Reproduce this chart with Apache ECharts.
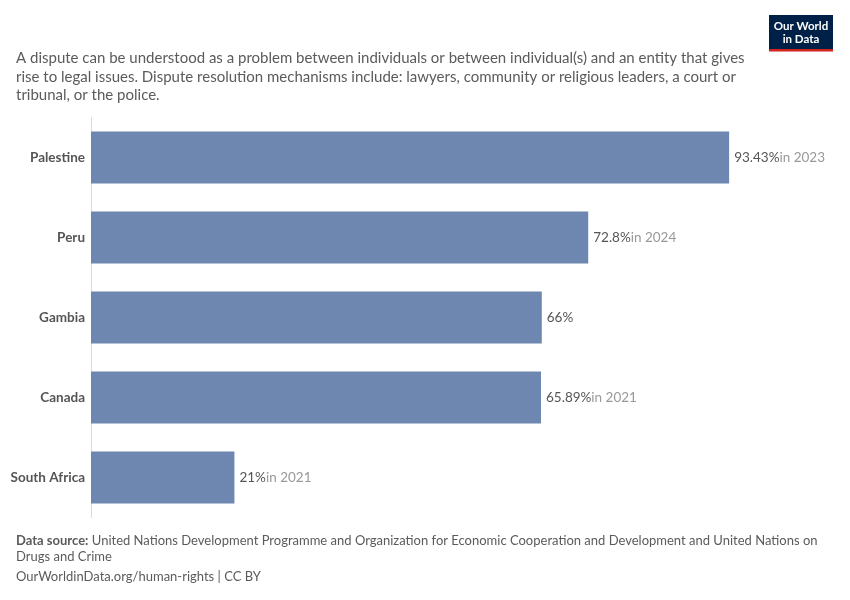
<!DOCTYPE html>
<html>
<head>
<meta charset="utf-8">
<script src="https://cdn.jsdelivr.net/npm/echarts@6/dist/echarts.min.js"></script>
<style>
  html, body { margin: 0; padding: 0; background: #fff; }
  #main { width: 850px; height: 600px; }
</style>
</head>
<body>
<div id="main"></div>
<script>
const countries = ['Palestine', 'Peru', 'Gambia', 'Canada', 'South Africa']
const shares = [93.43, 72.8, 66, 65.89, 21]
const years = ['2023', '2024', '', '2021', '2021']
const valueText = ['93.43%', '72.8%', '66%', '65.89%', '21%']

const subtitle = [
    'A dispute can be understood as a problem between individuals or between individual(s) and an entity that gives',
    'rise to legal issues. Dispute resolution mechanisms include: lawyers, community or religious leaders, a court or',
    'tribunal, or the police.'
].join('\n')

const font = 'Lato, "Noto Sans", sans-serif'

const chart = echarts.init(document.getElementById('main'))
chart.setOption({
    animation: false,
    textStyle: { fontFamily: font },
    title: {
        text: subtitle,
        left: 11,
        top: 44,
        textStyle: {
            fontFamily: font,
            fontSize: 15,
            fontWeight: 'normal',
            color: '#5b5b5b',
            lineHeight: 18.5,
        },
    },
    grid: { left: 91, right: 76, top: 117.5, bottom: 82.5, containLabel: false },
    xAxis: {
        type: 'value',
        min: 0,
        max: 100,
        show: false,
    },
    yAxis: {
        type: 'category',
        data: countries,
        inverse: true,
        axisLine: { show: true, lineStyle: { color: '#dadada', width: 1 } },
        axisTick: { show: false },
        axisLabel: {
            fontFamily: font,
            fontSize: 13.5,
            fontWeight: 'bold',
            color: '#555',
            margin: 6,
        },
    },
    series: [{
        type: 'bar',
        data: shares,
        barCategoryGap: '35%',
        itemStyle: { color: '#6d87b0' },
        label: {
            show: true,
            position: 'right',
            distance: 5,
            formatter: p => {
                let s = '{v|' + valueText[p.dataIndex] + '}'
                if (years[p.dataIndex]) s += '{y|in ' + years[p.dataIndex] + '}'
                return s
            },
            rich: {
                v: { fontFamily: font, fontSize: 13.5, color: '#555' },
                y: { fontFamily: font, fontSize: 13.5, color: '#999' },
            },
        },
    }],
    graphic: [
        {
            type: 'rect',
            shape: { x: 769, y: 15, width: 64, height: 34 },
            style: { fill: '#002147' },
        },
        {
            type: 'rect',
            shape: { x: 769, y: 49, width: 64, height: 2.5 },
            style: { fill: '#ce261e' },
        },
        {
            type: 'text',
            x: 801,
            y: 33,
            style: {
                text: 'Our World\nin Data',
                fill: '#fff',
                font: 'bold 11.5px ' + font,
                align: 'center',
                verticalAlign: 'middle',
                lineHeight: 13,
            },
        },
        {
            type: 'text',
            x: 16,
            y: 533,
            style: {
                text: '{b|Data source:} United Nations Development Programme and Organization for Economic Cooperation and Development and United Nations on\nDrugs and Crime',
                fill: '#5b5b5b',
                font: '13px ' + font,
                lineHeight: 16,
                rich: {
                    b: { fontWeight: 'bold', fontFamily: font, fontSize: 13, fill: '#5b5b5b' },
                },
            },
        },
        {
            type: 'text',
            x: 16,
            y: 570,
            style: {
                text: 'OurWorldinData.org/human-rights | CC BY',
                fill: '#5b5b5b',
                font: '13px ' + font,
            },
        },
    ],
})
</script>
</body>
</html>
